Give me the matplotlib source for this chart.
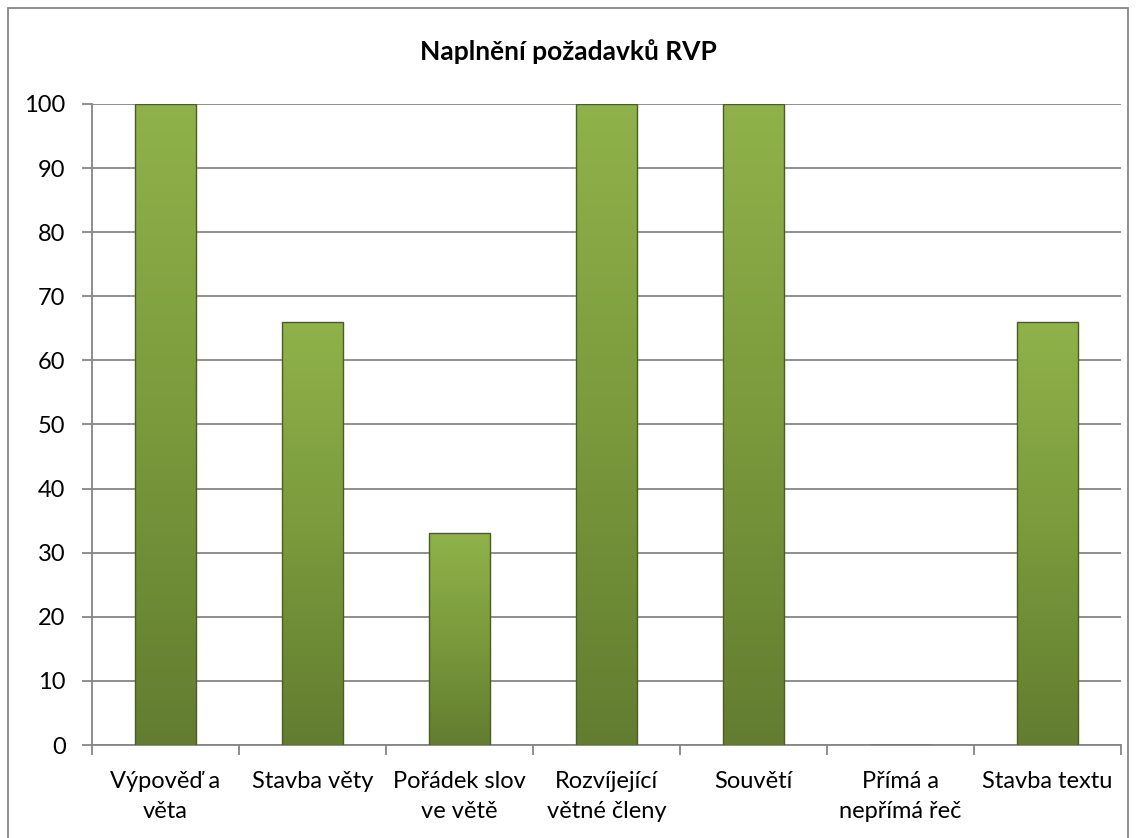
import matplotlib.pyplot as plt
import numpy as np
from matplotlib.patches import Rectangle
from matplotlib.colors import LinearSegmentedColormap

categories = ["Výpověď a\nvěta", "Stavba věty", "Pořádek slov\nve větě",
              "Rozvíjející\nvětné členy", "Souvětí", "Přímá a\nnepřímá řeč",
              "Stavba textu"]
values = [100, 66, 33, 100, 100, 0, 66]
yticks = list(range(0, 101, 10))

plt.rcParams['font.family'] = ['Lato', 'DejaVu Sans']

fig = plt.figure(figsize=(11.36, 8.38), dpi=100)
ax = fig.add_axes([92 / 1136, 1 - 745 / 838, 1029 / 1136, 641 / 838])

x = np.arange(len(categories))
bars = ax.bar(x, values, width=0.41, color='#77933c', edgecolor='#4a5e22',
              linewidth=1.0, zorder=3)

# gradient fill inside every bar
grad = np.linspace(0, 1, 256).reshape(-1, 1)
cmap = LinearSegmentedColormap.from_list('g', ['#627d30', '#7a9a3c', '#90b24a'])
for b in bars:
    if b.get_height() <= 0:
        continue
    x0, y0 = b.get_x(), b.get_y()
    w, h = b.get_width(), b.get_height()
    im = ax.imshow(grad, extent=[x0, x0 + w, y0, y0 + h], origin='lower',
                   cmap=cmap, aspect='auto', zorder=3.5)
    im.set_clip_path(b)
    b.set_facecolor('none')
    b.set_zorder(4)

ax.set_xlim(-0.5, len(categories) - 0.5)
ax.set_ylim(0, 100)
ax.set_yticks(yticks)
ax.yaxis.grid(True, color='#868686', linewidth=1.3, zorder=0)
ax.set_axisbelow(True)

ax.set_xticks(x)
ax.set_xticklabels(categories, fontsize=17, linespacing=1.5)
ax.set_xticks(np.arange(-0.5, len(categories), 1), minor=True)
ax.tick_params(axis='x', which='major', length=0, pad=19)
ax.tick_params(axis='x', which='minor', length=7, width=1.3, color='#868686')
ax.tick_params(axis='y', length=7, width=1.3, color='#868686', labelsize=17, pad=12)

for s in ['top', 'right']:
    ax.spines[s].set_visible(False)
for s in ['left', 'bottom']:
    ax.spines[s].set_color('#868686')
    ax.spines[s].set_linewidth(1.3)

fig.text(0.5, 1 - 52 / 838, 'Naplnění požadavků RVP', ha='center', va='center',
         fontsize=19, fontweight='bold')

fig.patches.append(Rectangle((8 / 1136, -0.05), 1120 / 1136, 1 - 8 / 838 + 0.05,
                             transform=fig.transFigure, fill=False,
                             edgecolor='#868686', linewidth=1.3))

fig.savefig('out.png', dpi=100)
